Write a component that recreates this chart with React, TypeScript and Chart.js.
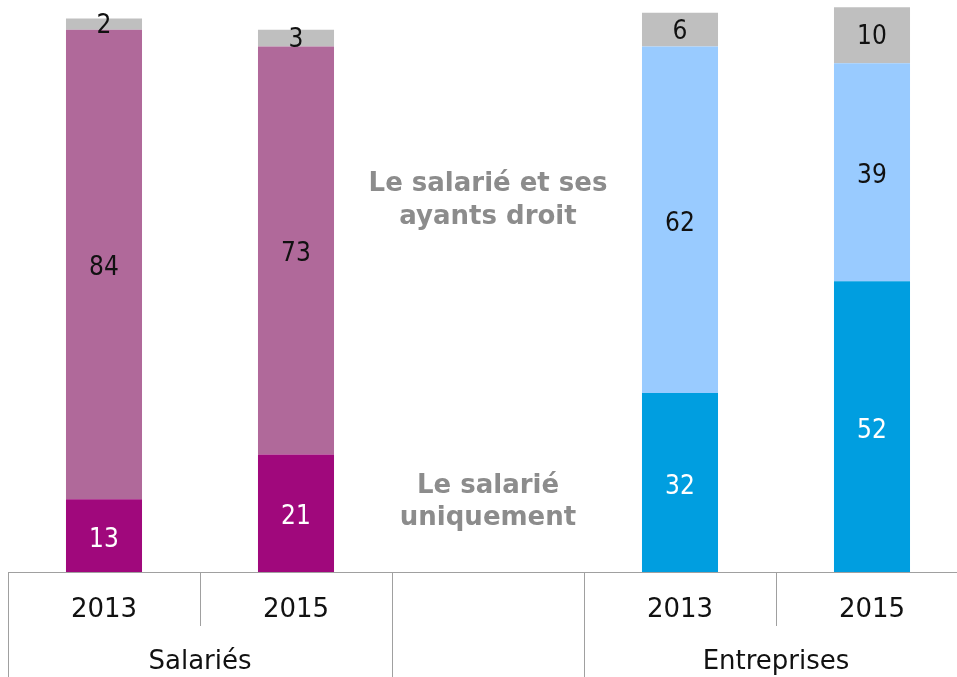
import React, { useEffect, useRef } from "react";
import { Chart, registerables } from "chart.js";

Chart.register(...registerables);

const categories = ["2013", "2015", "", "2013", "2015"];
const groups = [
  { label: "Salariés", from: 0, to: 1 },
  { label: "Entreprises", from: 3, to: 4 },
];
const uniquement = [13, 21, null, 32, 52];
const ayantsDroit = [84, 73, null, 62, 39];
const nonReponse = [2, 3, null, 6, 10];

const colUniq = ["#A0087C", "#A0087C", "#A0087C", "#009EE0", "#009EE0"];
const colAyants = ["#B0699A", "#B0699A", "#B0699A", "#99CBFF", "#99CBFF"];
const colGray = "#BFBFBF";
const labelColUniq = "#ffffff";
const labelColOther = "#111111";

const annotTop = ["Le salarié et ses", "ayants droit"];
const annotBottom = ["Le salarié", "uniquement"];

const FONT = "'DejaVu Sans', Verdana, sans-serif";
const FONT_COND = "'DejaVu Sans Condensed', 'DejaVu Sans', sans-serif";

const overlayPlugin = {
  id: "overlay",
  afterDatasetsDraw(chart: any) {
    const ctx = chart.ctx;
    const x = chart.scales.x;
    const area = chart.chartArea;
    const h = chart.height;
    ctx.save();
    // data labels
    chart.data.datasets.forEach((ds: any, di: number) => {
      const meta = chart.getDatasetMeta(di);
      meta.data.forEach((el: any, i: number) => {
        const v = ds.data[i];
        if (v === null || v === undefined) return;
        const cy = (el.y + el.base) / 2;
        ctx.fillStyle = di === 0 ? labelColUniq : labelColOther;
        ctx.font = `26px ${FONT_COND}`;
        try { (ctx as any).fontStretch = "condensed"; } catch (e) {}
        ctx.textAlign = "center";
        ctx.textBaseline = "alphabetic";
        const off = di === 2 ? 9 : 11;
        ctx.fillText(String(v), el.x, cy + off);
      });
    });
    try { (ctx as any).fontStretch = "normal"; } catch (e) {}
    // axis lines
    const slot = (x.right - x.left) / categories.length;
    ctx.strokeStyle = "#a0a0a0";
    ctx.lineWidth = 1;
    ctx.beginPath();
    ctx.moveTo(area.left, area.bottom + 0.5);
    ctx.lineTo(area.right, area.bottom + 0.5);
    ctx.stroke();
    for (let i = 0; i <= categories.length; i++) {
      const lx = Math.round(area.left + i * slot) + 0.5;
      const full = i === 0 || i === 2 || i === 3 || i === 5;
      ctx.beginPath();
      ctx.moveTo(lx, area.bottom);
      ctx.lineTo(lx, full ? h : area.bottom + 54);
      ctx.stroke();
    }
    // year labels
    ctx.fillStyle = "#111111";
    ctx.font = `26px ${FONT}`;
    ctx.textAlign = "center";
    ctx.textBaseline = "alphabetic";
    categories.forEach((c, i) => {
      if (!c) return;
      ctx.fillText(c, x.getPixelForValue(i), area.bottom + 45);
    });
    groups.forEach((g) => {
      const cx = (x.getPixelForValue(g.from) + x.getPixelForValue(g.to)) / 2;
      ctx.fillText(g.label, cx, area.bottom + 97);
    });
    // annotations
    ctx.fillStyle = "#8c8c8c";
    ctx.font = `bold 26px ${FONT}`;
    const ax = area.left + 2.5 * slot;
    annotTop.forEach((t, i) => ctx.fillText(t, ax, 191 + i * 33));
    annotBottom.forEach((t, i) => ctx.fillText(t, ax, 493 + i * 32));
    ctx.restore();
  },
};

export default function App() {
  const ref = useRef<HTMLCanvasElement | null>(null);
  useEffect(() => {
    if (!ref.current) return;
    const chart = new Chart(ref.current, {
      type: "bar",
      data: {
        labels: categories,
        datasets: [
          { label: "Le salarié uniquement", data: uniquement, backgroundColor: colUniq, categoryPercentage: 1, barPercentage: 0.396 },
          { label: "Le salarié et ses ayants droit", data: ayantsDroit, backgroundColor: colAyants, categoryPercentage: 1, barPercentage: 0.396 },
          { label: "NSP", data: nonReponse, backgroundColor: colGray, categoryPercentage: 1, barPercentage: 0.396 },
        ],
      },
      options: {
        responsive: false,
        animation: false,
        layout: { padding: { top: 0, left: 0, right: 0, bottom: 105 } },
        plugins: { legend: { display: false }, tooltip: { enabled: false } },
        scales: {
          x: { stacked: true, display: false },
          y: { stacked: true, display: false, min: 0, max: 102.3 },
        },
      },
      plugins: [overlayPlugin],
    });
    return () => chart.destroy();
  }, []);
  return (
    <div style={{ position: "fixed", left: 0, top: 0, width: 957, height: 677, overflow: "hidden", background: "#fff" }}>
      <canvas ref={ref} width={960} height={677} style={{ position: "absolute", left: 8, top: 0, width: 960, height: 677 }} />
    </div>
  );
}
